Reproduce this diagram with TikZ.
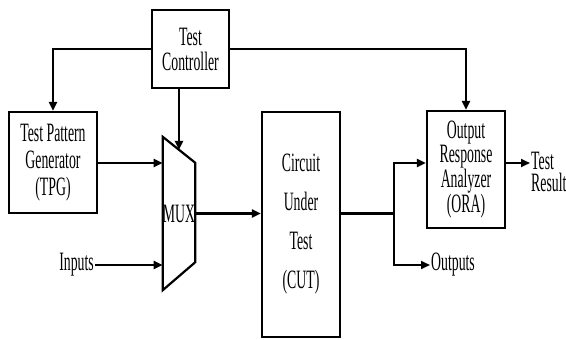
\documentclass[tikz,border=0pt]{standalone}
\usepackage{fontspec}
\setmainfont[FakeStretch=0.52]{Liberation Serif}
\usetikzlibrary{arrows.meta, calc}

\begin{document}
\begin{tikzpicture}[
        x=1pt, y=-1pt,
        block/.style={draw, line width=2.2pt, align=center, inner sep=0pt, font=\fontsize{26.5}{27}\selectfont},
        txt/.style={inner sep=1pt, font=\fontsize{26.5}{24}\selectfont},
        arrow/.style={-{Triangle[length=9pt, width=8pt]}, line width=2.2pt}
    ]
        \useasboundingbox (0,0) rectangle (566,340);

        % --- Blocks ---
        \node[block, minimum width=77pt, minimum height=78pt, font=\fontsize{26.5}{25}\selectfont] (ctrl) at (190.5,49) {Test\\Controller};
        \node[block, minimum width=88pt, minimum height=101pt] (tpg) at (53,162.5) {Test Pattern\\Generator\\(TPG)};
        \node[block, minimum width=78pt, minimum height=225pt, font=\fontsize{26.5}{39}\selectfont] (cut) at (301,224.5) {Circuit\\Under\\Test\\(CUT)};
        \node[block, minimum width=78pt, minimum height=117pt, font=\fontsize{26.5}{23.5}\selectfont] (ora) at (466,169.5) {Output\\Response\\Analyzer\\(ORA)};

        % --- MUX (trapezoid drawn round its text node) ---
        \node[txt, inner sep=0pt, minimum width=32pt, minimum height=153pt] (mux) at (179,213.5) {MUX};
        \draw[line width=2.2pt] (mux.north west) -- ($(mux.north east)+(0,26)$) coordinate (mux-ne)
            -- ($(mux.south east)+(0,-28)$) -- (mux.south west) -- cycle;
        \coordinate (mux-sel) at ($(mux.north west)!0.5!(mux-ne)$);

        % --- Free texts ---
        \node[txt, anchor=east] (inputs) at (95,265) {Inputs};
        \node[txt, anchor=west] (outputs) at (430,265) {Outputs};
        \node[txt, anchor=west, align=left, font=\fontsize{26.5}{22}\selectfont] (result) at (530,172) {Test\\Result};

        % --- Control lines ---
        \draw[arrow] (ctrl.west) -| (tpg.north);
        \draw[arrow] (ctrl.east) -| (ora.north);
        \draw[arrow] (ctrl.south -| mux-sel) -- (mux-sel);

        % --- Data path ---
        \draw[arrow] (tpg.east |- 0,163) -- (mux.west |- 0,163);
        \draw[arrow] (inputs.east) -- (inputs.east -| mux.west);
        \draw[arrow] (mux.east) -- (mux.east -| cut.west);
        \coordinate (split) at (394,213.5);
        \draw[line width=2.2pt] (cut.east |- split) -- (split);
        \draw[arrow] (split) |- (ora.west |- 0,163);
        \draw[arrow] (split) |- (outputs.west);
        \draw[arrow] (ora.east |- 0,163) -- (result.west |- 0,163);

    \end{tikzpicture}
\end{document}
